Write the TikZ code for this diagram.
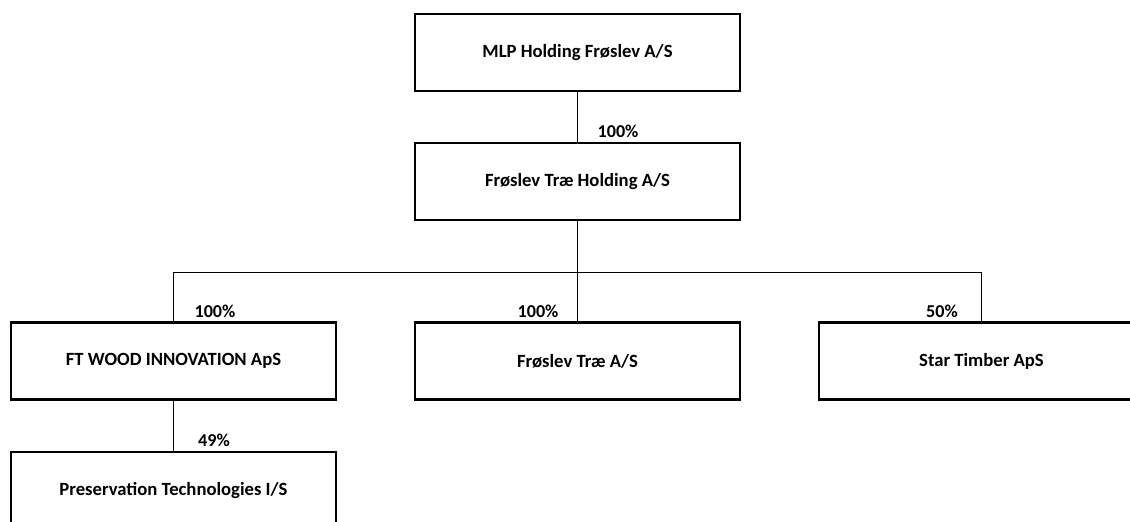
\documentclass[tikz,border=0pt]{standalone}
\usepackage{fontspec}
\setmainfont{Carlito}
\usepackage{tikz}
\usetikzlibrary{positioning,calc}
\tikzset{%
	company/.style = {draw, rectangle, line width=1.6pt, minimum width=243.75pt, minimum height=57.75pt, text centered, font=\fontsize{14}{16}\selectfont\bfseries},
	share/.style   = {font=\fontsize{13.6}{16}\selectfont\bfseries, inner sep=0pt},
	link/.style    = {line width=0.75pt},
}
\begin{document}
\begin{tikzpicture}[x=0.75pt,y=-0.75pt]
		\useasboundingbox (0,0) rectangle (1130,521);
		\clip (0,0) rectangle (1130,521);
		% companies
		\node[company] (mlp) at (577.5,52.5) {MLP Holding Frøslev A/S};
		\node[company] (holding) at (577.5,181.5) {Frøslev Træ Holding A/S};
		\node[company] (ftwood) at (173.5,361) {FT WOOD INNOVATION ApS};
		\node[company] (fraes) at (577.5,361) {Frøslev Træ A/S};
		\node[company] (star) at (981.5,361) {Star Timber ApS};
		\node[company] (preserv) at (173.5,490.5) {Preservation Technologies I/S};
		\coordinate (bus) at (577.5,272);
		% ownership lines
		\draw[link] (mlp) -- (holding);
		\draw[link] (holding) -- (bus);
		\draw[link] (bus) -| (ftwood.north);
		\draw[link] (bus) -- (fraes);
		\draw[link] (bus) -| (star.north);
		\draw[link] (ftwood) -- (preserv);
		% shares
		\node[share] (p1) at (618,131) {100\%};
		\node[share] (p2) at (215,311) {100\%};
		\node[share] (p3) at (538,311) {100\%};
		\node[share] (p4) at (942,311) {50\%};
		\node[share] (p5) at (214,440) {49\%};
	\end{tikzpicture}
\end{document}
